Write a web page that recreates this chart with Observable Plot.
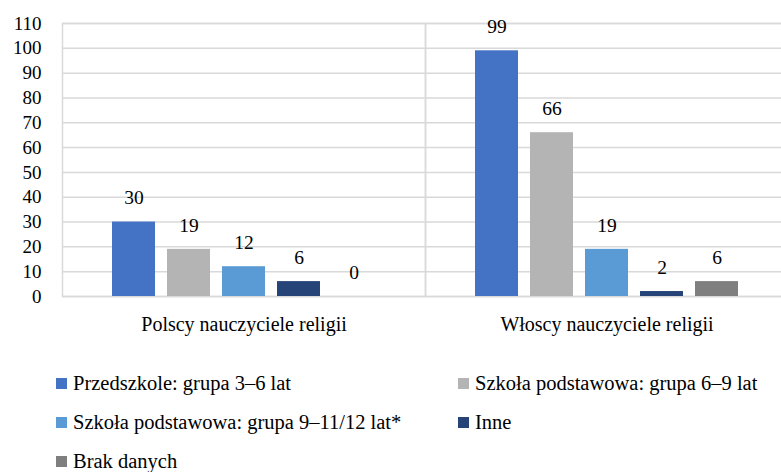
<!DOCTYPE html>
<html>
<head>
<meta charset="utf-8">
<script src="https://cdn.jsdelivr.net/npm/d3@7"></script>
<script src="https://cdn.jsdelivr.net/npm/@observablehq/plot@0.6"></script>
<style>
  html, body { margin: 0; padding: 0; background: #fff; overflow: hidden; }
  body { width: 781px; font-family: "Liberation Serif", "Times New Roman", "DejaVu Serif", "Noto Serif", serif; color: #000; }
  #legend { display: grid; grid-template-columns: 402px 300px; margin-left: 56px; margin-top: 24px; row-gap: 0; }
  .item { height: 39px; display: flex; align-items: center; font-size: 20.5px; white-space: nowrap; }
  .sw { width: 11px; height: 11px; margin-right: 6px; flex: none; }
</style>
</head>
<body>
<div id="chart"></div>
<div id="legend"></div>
<script>
const groups = ["Polscy nauczyciele religii", "Włoscy nauczyciele religii"];
const categories = [
  "Przedszkole: grupa 3–6 lat",
  "Szkoła podstawowa: grupa 6–9 lat",
  "Szkoła podstawowa: grupa 9–11/12 lat*",
  "Inne",
  "Brak danych"
];
const polishValues = [30, 19, 12, 6, 0];
const italianValues = [99, 66, 19, 2, 6];
const colors = ["#4472C4", "#B4B4B4", "#5B9BD5", "#264478", "#7F7F7F"];
const yTicks = [0, 10, 20, 30, 40, 50, 60, 70, 80, 90, 100, 110];

const FONT = '"Liberation Serif", "Times New Roman", "DejaVu Serif", "Noto Serif", serif';

const data = [];
categories.forEach((c, i) => data.push({group: groups[0], category: c, value: polishValues[i]}));
categories.forEach((c, i) => data.push({group: groups[1], category: c, value: italianValues[i]}));

const chart = Plot.plot({
  width: 781,
  height: 340,
  marginLeft: 62,
  marginRight: -7,
  marginTop: 23,
  marginBottom: 44,
  style: {fontFamily: FONT, fontSize: "19px", color: "#000", background: "#fff"},
  fx: {domain: groups, padding: 0, label: null},
  x: {domain: categories, paddingInner: 0.21, paddingOuter: 0.86, axis: null},
  y: {domain: [0, 110], label: null},
  color: {domain: categories, range: colors},
  marks: [
    Plot.gridY(yTicks, {stroke: "#d9d9d9", strokeOpacity: 1, strokeWidth: 1.5}),
    Plot.frame({stroke: "#d9d9d9", strokeWidth: 1.5}),
    Plot.axisY({ticks: yTicks, tickSize: 0, tickPadding: 21, fontSize: 19, label: null}),
    Plot.axisFx({anchor: "bottom", tickSize: 0, tickPadding: 20, fontSize: 20, label: null}),
    Plot.barY(data, {fx: "group", x: "category", y: "value", fill: "category"}),
    Plot.text(data, {fx: "group", x: "category", y: "value", text: d => String(d.value), dy: -24, fontSize: 19.5, fill: "#000"})
  ]
});
document.getElementById("chart").appendChild(chart);

const legend = document.getElementById("legend");
categories.forEach((c, i) => {
  const item = document.createElement("div");
  item.className = "item";
  const sw = document.createElement("span");
  sw.className = "sw";
  sw.style.background = colors[i];
  const t = document.createElement("span");
  t.textContent = c;
  item.appendChild(sw);
  item.appendChild(t);
  legend.appendChild(item);
});
</script>
</body>
</html>
